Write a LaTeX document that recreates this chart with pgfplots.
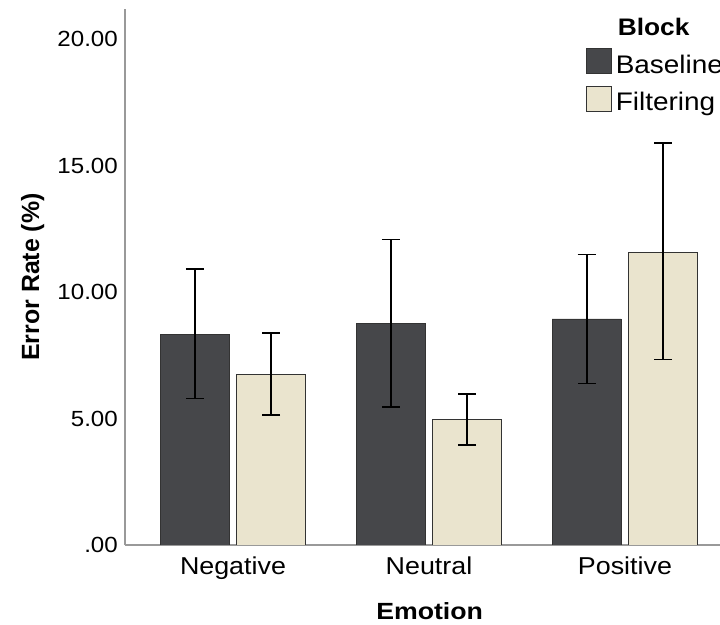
\documentclass[border=0pt]{standalone}
\usepackage{fontspec}
\setmainfont{Liberation Sans}
\usepackage{graphicx}
\usepackage{pgfplots}
\pgfplotsset{compat=1.18}
\definecolor{basec}{HTML}{46474A}
\definecolor{filtc}{HTML}{EAE4CE}
\newcommand\sx[1]{\scalebox{1.1}[1]{#1}}
\begin{document}
\begin{tikzpicture}
\begin{axis}[
  at={(125bp,80bp)}, anchor=south west,
  scale only axis, width=595bp, height=536bp,
  xmin=-0.551, xmax=2.485, ymin=0, ymax=21.2,
  axis x line*=bottom, axis y line*=left,
  axis line style={-, draw=black!40, line width=1.2bp},
  ytick={0,5,10,15,20}, yticklabels={\sx{.00},\sx{5.00},\sx{10.00},\sx{15.00},\sx{20.00}},
  xtick={0,1,2}, xticklabels={\sx{Negative},\sx{Neutral},\sx{Positive}},
  major tick length=0pt,
  yticklabel style={font=\fontsize{22}{26}\selectfont, anchor=east, inner sep=0pt, xshift=-7bp},
  xticklabel style={font=\fontsize{24.5}{29}\selectfont, anchor=north, inner sep=0pt, yshift=-12bp},
  ylabel={Error Rate (\%)},
  xlabel={\scalebox{1.14}[1]{Emotion}},
  every axis y label/.style={at={(axis description cs:-0.155,0.5)}, rotate=90, anchor=center, font=\fontsize{25}{30}\selectfont\bfseries},
  every axis x label/.style={at={(axis description cs:0.512,-0.123)}, anchor=center, font=\fontsize{23.5}{28}\selectfont\bfseries},
  legend cell align=left,
  legend style={at={(axis description cs:0.7748,0.9823)}, anchor=north west, draw=none, fill=none,
    inner sep=0pt, outer sep=0pt, column sep=4bp, row sep=11bp,
    nodes={inner sep=0pt, font=\fontsize{25.5}{30}\selectfont}},
]
\addlegendimage{empty legend}
\addlegendentry{\fontsize{24}{28}\selectfont\bfseries\hspace{2bp}\sx{Block}\rule[-22bp]{0pt}{22bp}}
\addplot[ybar, bar width=0.352, bar shift=0pt, fill=basec, draw=black!80, line width=0.8bp,
  legend image code/.code={\draw[fill=basec, draw=black!80, line width=0.8bp] (0bp,-9bp) rectangle (25bp,16bp);},
  error bars/.cd, y dir=both, y explicit,
  error bar style={black, line width=1.6bp},
  error mark options={rotate=90, mark size=9bp, line width=1.6bp, black}]
coordinates {
  (-0.195,8.34) += (0,2.57) -= (0,2.54)
  (0.805,8.77) += (0,3.32) -= (0,3.30)
  (1.805,8.94) += (0,2.55) -= (0,2.56)
};
\addlegendentry{\sx{Baseline}}
\addplot[ybar, bar width=0.352, bar shift=0pt, fill=filtc, draw=black!80, line width=0.8bp,
  legend image code/.code={\draw[fill=filtc, draw=black!80, line width=0.8bp] (0bp,-9bp) rectangle (25bp,16bp);},
  error bars/.cd, y dir=both, y explicit,
  error bar style={black, line width=1.6bp},
  error mark options={rotate=90, mark size=9bp, line width=1.6bp, black}]
coordinates {
  (0.195,6.76) += (0,1.62) -= (0,1.62)
  (1.195,4.96) += (0,1.01) -= (0,1.01)
  (2.195,11.57) += (0,4.32) -= (0,4.23)
};
\addlegendentry{\sx{Filtering}}
\end{axis}
\pgfresetboundingbox
\useasboundingbox (0,0) rectangle (720bp,625bp);
\end{tikzpicture}
\end{document}
